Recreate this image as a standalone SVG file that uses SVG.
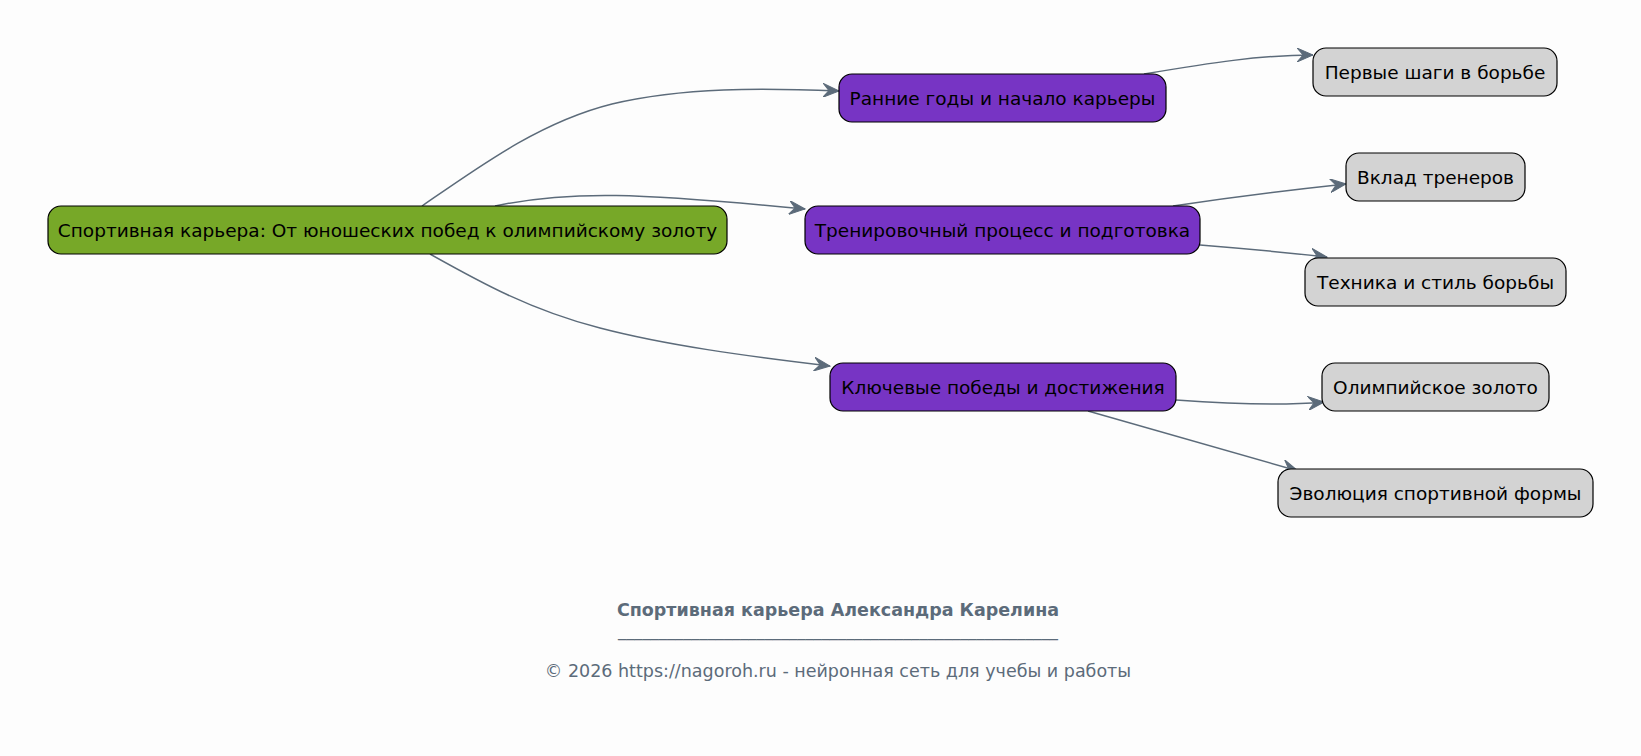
<svg xmlns="http://www.w3.org/2000/svg" width="1641" height="756" viewBox="0 0 1641 756">
<style>
.n rect{stroke:#000;stroke-width:1.2}
.root rect{fill:#77a828}
.mid rect{fill:#7734c4}
.leaf rect{fill:#d3d3d3}
.n text{font-family:"DejaVu Sans",sans-serif;font-size:18.5px;fill:#000;text-anchor:middle;dominant-baseline:central}
.e path{fill:none;stroke:#5c6b7a;stroke-width:1.5;marker-end:url(#a)}
.f{font-family:"DejaVu Sans",sans-serif;fill:#5c6b7a;text-anchor:middle}
</style>
<defs>
<marker id="a" markerWidth="18" markerHeight="14" refX="16" refY="7" orient="auto" markerUnits="userSpaceOnUse">
<path d="M0,0 L16,7 L0,14 L6,7 Z" fill="#5c6b7a" stroke="#5c6b7a" stroke-width="1"/>
</marker>
</defs>
<rect width="1641" height="756" fill="#fdfdfd"/>
<g id="edges" class="e">
<path d="M422,206 C480,166 540,122 612,104 C684,87 762,88 839,91"/>
<path d="M495,206 C570,190 640,193 805,209"/>
<path d="M430,254 C480,282 530,310 600,328 C665,345 745,356 830,366"/>
<path d="M1144,74 C1210,63 1260,55 1313,55"/>
<path d="M1173,206 C1240,196 1290,190 1346,184"/>
<path d="M1200,245 C1250,249 1290,253 1327,257"/>
<path d="M1176,400 C1230,404 1280,406 1324,402"/>
<path d="M1088,411 C1160,432 1230,451 1298,471"/>
</g>
<g id="root" class="n root"><rect x="48" y="206" width="679" height="48" rx="13"/><text x="387.5" y="230">Спортивная карьера: От юношеских побед к олимпийскому золоту</text></g>
<g id="p1" class="n mid"><rect x="839" y="74" width="327" height="48" rx="13"/><text x="1002.5" y="98">Ранние годы и начало карьеры</text></g>
<g id="p2" class="n mid"><rect x="805" y="206" width="395" height="48" rx="13"/><text x="1002.5" y="230">Тренировочный процесс и подготовка</text></g>
<g id="p3" class="n mid"><rect x="830" y="363" width="346" height="48" rx="13"/><text x="1003" y="387">Ключевые победы и достижения</text></g>
<g id="g1" class="n leaf"><rect x="1313" y="48" width="244" height="48" rx="13"/><text x="1435" y="72">Первые шаги в борьбе</text></g>
<g id="g2" class="n leaf"><rect x="1346" y="153" width="179" height="48" rx="13"/><text x="1435.5" y="177">Вклад тренеров</text></g>
<g id="g3" class="n leaf"><rect x="1305" y="258" width="261" height="48" rx="13"/><text x="1435.5" y="282">Техника и стиль борьбы</text></g>
<g id="g4" class="n leaf"><rect x="1322" y="363" width="227" height="48" rx="13"/><text x="1435.5" y="387">Олимпийское золото</text></g>
<g id="g5" class="n leaf"><rect x="1278" y="469" width="315" height="48" rx="13"/><text x="1435.5" y="493">Эволюция спортивной формы</text></g>
<g id="footer">
<text class="f" x="838" y="616" font-size="17.5" font-weight="bold">Спортивная карьера Александра Карелина</text>
<text class="f" x="838" y="636" font-size="17.5" textLength="440" lengthAdjust="spacingAndGlyphs">______________________________________________________</text>
<text class="f" x="838" y="677" font-size="17.5">© 2026 https://nagoroh.ru - нейронная сеть для учебы и работы</text>
</g>
</svg>
